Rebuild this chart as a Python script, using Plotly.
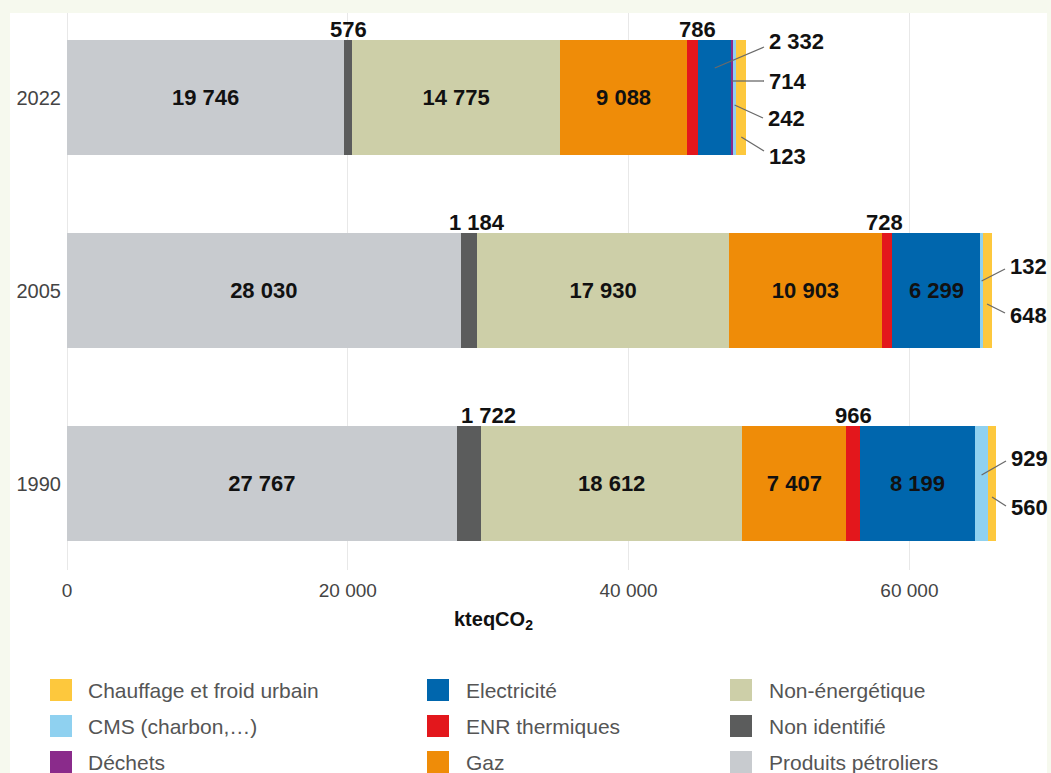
import plotly.graph_objects as go

# ---------------- data ----------------
years = ["1990", "2005", "2022"]
series_names = ["Produits pétroliers", "Non identifié", "Non-énergétique", "Gaz",
                "ENR thermiques", "Electricité", "Déchets", "CMS (charbon,…)",
                "Chauffage et froid urbain"]
produits = [27767, 28030, 19746]
non_identifie = [1722, 1184, 576]
non_energetique = [18612, 17930, 14775]
gaz = [7407, 10903, 9088]
enr_thermiques = [966, 728, 786]
electricite = [8199, 6299, 2332]
dechets = [0, 0, 123]
cms = [929, 132, 242]
chauffage = [560, 648, 714]
colors = ["#c8cbcf", "#5b5c5c", "#cdcfa8", "#ef8c08", "#e3171c",
          "#0066ad", "#8a2b8b", "#8fd1f0", "#fdc83d"]
x_ticks = [0, 20000, 40000, 60000]
legend_order = ["Chauffage et froid urbain", "CMS (charbon,…)", "Déchets",
                "Electricité", "ENR thermiques", "Gaz",
                "Non-énergétique", "Non identifié", "Produits pétroliers"]

values = [produits, non_identifie, non_energetique, gaz, enr_thermiques,
          electricite, dechets, cms, chauffage]

def fmt(v):
    return f"{v:,}".replace(",", " ")

# ---------------- geometry ----------------
W, H = 1051, 773
L, R, T, B = 67, 11, 13, 203
PW = W - L - R
PH = H - T - B
XMAX = 69300
PXU = PW / XMAX

def xd(px):  # pixel -> data x
    return (px - L) / PXU

def yp(py):  # pixel -> paper y
    return (H - B - py) / PH

def xp(px):  # pixel -> paper x
    return (px - L) / PW

FONT = "Liberation Sans, Arial, Helvetica, sans-serif"
LBL = dict(family=FONT, size=22, color="#111", weight="bold")

fig = go.Figure()

# cumulative starts
starts = []
acc = [0, 0, 0]
for vals in values:
    starts.append(list(acc))
    acc = [a + v for a, v in zip(acc, vals)]

def center(si, yi):
    return starts[si][yi] + values[si][yi] / 2

for name, vals, col in zip(series_names, values, colors):
    has_inside = any(v >= 5000 for v in vals)
    kw = {}
    if has_inside:
        kw = dict(text=[fmt(v) if v >= 5000 else " " for v in vals],
                  textposition="inside", insidetextanchor="middle",
                  textfont=LBL, constraintext="none")
    fig.add_trace(go.Bar(
        y=years, x=vals, name=name, orientation="h",
        marker=dict(color=col, line=dict(width=0)),
        width=0.6, showlegend=False, hoverinfo="x+name", **kw,
    ))

annotations = []
shapes = []

# white panel
shapes.append(dict(type="rect", xref="paper", yref="paper", layer="below",
                   x0=xp(10), x1=xp(1047), y0=yp(773), y1=yp(13),
                   fillcolor="white", line=dict(width=0)))

# labels above bars (Non identifié, ENR thermiques)
top_shift = {("Non identifié", 1): 8, ("Non identifié", 0): 20,
             ("ENR thermiques", 2): 5, ("ENR thermiques", 1): -3}
for si in (1, 4):
    for yi, yr in enumerate(years):
        annotations.append(dict(
            x=center(si, yi), y=yi + 0.3, xref="x", yref="y",
            text=fmt(values[si][yi]), showarrow=False,
            yanchor="bottom", xanchor="center",
            xshift=top_shift.get((series_names[si], yi), 0), yshift=-4,
            font=LBL))

# right-side labels with leader lines:
# (year index, label series, target series, label y px, target y px, line end px (x, y))
right_labels = [
    (2, 5, 5, 41, 68, (764, 47)),
    (2, 8, 6, 81, 81, (764, 81)),
    (2, 7, 7, 118, 105, (763, 118)),
    (2, 6, 8, 156, 137, (764, 151)),
    (1, 7, 7, 266, 281, (1005, 269)),
    (1, 8, 8, 315, 304, (1005, 313)),
    (0, 7, 7, 458, 475, (1006, 461)),
    (0, 8, 8, 507, 497, (1006, 506)),
]
for yi, lsi, tsi, ly, ty, (ex, ey) in right_labels:
    tx = center(tsi, yi)
    shapes.append(dict(type="line", xref="x", yref="paper",
                       x0=tx, y0=yp(ty), x1=xd(ex), y1=yp(ey),
                       line=dict(color="#6a6a6a", width=1.3)))
    annotations.append(dict(
        x=xd(ex + 3), y=yp(ly), xref="x", yref="paper",
        text=fmt(values[lsi][yi]), showarrow=False,
        xanchor="left", yanchor="middle",
        font=LBL))

# axis title
annotations.append(dict(x=xp(493), y=yp(620), xref="paper", yref="paper",
                        text="kteqCO<sub>2</sub>", showarrow=False,
                        xanchor="center", yanchor="middle",
                        font=dict(family=FONT, size=20, color="#111", weight="bold")))

# manual legend (3 columns x 3 rows)
col_sw = [50, 427, 730]
col_tx = [88, 466, 769]
row_y = [690, 726, 762]
for i, name in enumerate(legend_order):
    c, r = divmod(i, 3)
    col = colors[series_names.index(name)]
    shapes.append(dict(type="rect", xref="paper", yref="paper",
                       x0=xp(col_sw[c]), x1=xp(col_sw[c] + 22),
                       y0=yp(row_y[r] + 11), y1=yp(row_y[r] - 11),
                       fillcolor=col, line=dict(width=0)))
    annotations.append(dict(x=xp(col_tx[c] - 2), y=yp(row_y[r]), xref="paper", yref="paper",
                            text=name, showarrow=False, xanchor="left", yanchor="middle",
                            font=dict(family=FONT, size=21, color="#555")))

fig.update_layout(
    barmode="stack",
    width=W, height=H,
    margin=dict(l=L, r=R, t=T, b=B, pad=0),
    paper_bgcolor="#f6f9ee",
    plot_bgcolor="white",
    separators=", ",
    font=dict(family=FONT, size=19, color="#444"),
    xaxis=dict(range=[0, XMAX], tickvals=x_ticks,
               ticktext=[fmt(v) for v in x_ticks],
               showgrid=True, gridcolor="#e8e8e8", gridwidth=1,
               zeroline=True, zerolinecolor="#e8e8e8", zerolinewidth=1,
               showline=False, ticks="", ticklabelstandoff=7,
               tickfont=dict(family=FONT, size=19, color="#444")),
    yaxis=dict(type="category", categoryorder="array", categoryarray=years,
               range=[-0.448, 2.438], showgrid=False, zeroline=False,
               ticks="", ticklabelstandoff=5,
               tickfont=dict(family=FONT, size=20, color="#444")),
    shapes=shapes,
    annotations=annotations,
    showlegend=False,
)

fig.write_html("out.html")
